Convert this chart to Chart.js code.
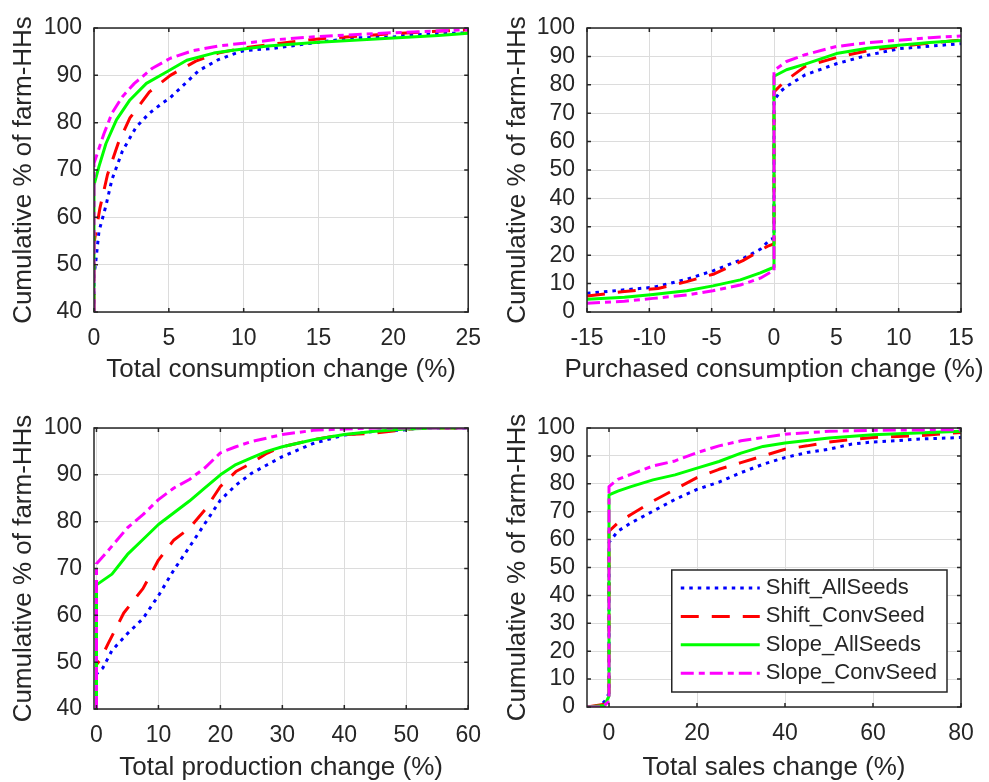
<!DOCTYPE html>
<html>
<head>
<meta charset="utf-8">
<title>Cumulative distribution of farm-HH changes</title>
<script src="https://cdn.jsdelivr.net/npm/chart.js@4.4.1/dist/chart.umd.min.js"></script>
<style>
  html, body { margin: 0; padding: 0; background: #fff; overflow: hidden; width: 989px; height: 782px; }
  canvas { position: absolute; }
</style>
</head>
<body>
<canvas id="consChart" width="494" height="391" style="left:0;top:0"></canvas>
<canvas id="purchChart" width="495" height="391" style="left:494px;top:0"></canvas>
<canvas id="prodChart" width="494" height="400" style="left:0;top:391px"></canvas>
<canvas id="salesChart" width="495" height="400" style="left:494px;top:391px"></canvas>
<script>
// series names, in legend order
const seriesNames = ['Shift_AllSeeds', 'Shift_ConvSeed', 'Slope_AllSeeds', 'Slope_ConvSeed'];

// --- Total consumption change (%) : [x, cumulative %] ---
const consShiftAll = [[0,40],[0,48],[0.1,50],[0.33,57],[0.8,62.5],[1.2,68],[1.9,74],[2.8,79],[3.7,82],[4.6,84.2],[5.1,85.3],[6,88],[7,91],[8.3,93.3],[9.4,94.6],[10,95.2],[12,95.7],[15,97],[17.5,97.9],[20,98.1],[21,98.5],[25,99]];
const consShiftConv = [[0,40],[0,54.5],[0.1,56.5],[0.4,62],[0.9,69],[1.6,75.5],[2.4,81],[3.7,86.5],[5.1,90],[6.8,93],[8.3,94.7],[10,95.8],[12.5,96.8],[15,97.7],[20,98.8],[23.5,99.4],[25,99.6]];
const consSlopeAll = [[0,40],[0,66.8],[0.33,70.7],[0.8,75.6],[1.5,80.6],[2.4,84.8],[3.5,88.3],[4.9,90.8],[6.2,93.2],[8,94.7],[9.3,95.3],[11.6,96.2],[15,97],[20,97.9],[23,98.4],[25,98.9]];
const consSlopeConv = [[0,40],[0,71.4],[0.22,73.5],[0.67,77.7],[1.2,82],[1.9,85.5],[2.7,88.3],[3.9,91.5],[5.1,93.6],[6.6,95.2],[8.3,96.2],[10.9,97.1],[12,97.5],[15,98.2],[20,99],[24,99.5],[25,99.7]];

// --- Purchased consumption change (%) ---
const purchShiftAll = [[-15,6.6],[-12,7.8],[-9.7,8.7],[-7,11.5],[-4.9,14.5],[-2.7,18.3],[-1.1,22.1],[-0.3,25.6],[0,26],[0,74.5],[0.5,77.6],[1,79.4],[2.5,83.5],[5,87.4],[7.5,90.4],[10,92.7],[12.5,93.6],[15,94.5]];
const purchShiftConv = [[-15,5.6],[-12.2,7.1],[-9.3,8.3],[-7,10.7],[-4.8,13.4],[-2.5,18.1],[-0.5,23.2],[0,24],[0,77.5],[0.8,81],[2.5,86.5],[5,89.6],[7.5,92],[10,93.5],[12.5,94.7],[15,95.8]];
const purchSlopeAll = [[-15,4.5],[-12,5.2],[-9.7,6.2],[-7,7.5],[-4.9,9.2],[-2.7,11.3],[-1.1,13.8],[-0.2,15.4],[0,15.8],[0,83],[1,85.3],[2.5,87.3],[5,91],[7.5,92.9],[10,93.9],[12.5,94.9],[15,95.6]];
const purchSlopeConv = [[-15,3.1],[-12,3.8],[-9.7,4.8],[-7,6],[-4.9,7.5],[-2.7,9.5],[-1.1,11.9],[-0.2,14.2],[0,14.5],[0,85],[1,88.2],[2.5,90.6],[5,93.5],[7.5,94.8],[10,95.7],[12.5,96.6],[15,97.2]];

// --- Total production change (%) ---
const prodShiftAll = [[0,40],[0,47.5],[1,48.7],[2.5,52.5],[5,56.1],[7.5,59.3],[10,64.2],[12.5,69.7],[15,74.6],[17.5,79.6],[20,84.6],[22.5,87.8],[25,90.3],[27.5,92.1],[30,93.9],[35,96.7],[40,98.5],[45,99.3],[50,99.6],[52,100],[60,100]];
const prodShiftConv = [[0,40],[0,49.5],[0.6,50.5],[1.9,54],[4.4,60.5],[7.5,65.7],[10,71.8],[12.5,76.1],[15,78.6],[17.5,82.5],[20,87.5],[22.5,90.7],[25,92.5],[27.5,94.6],[30,96],[35,97.5],[40,98.6],[45,98.9],[50,99.7],[52,100],[60,100]];
const prodSlopeAll = [[0,40],[0,66.5],[2.5,68.8],[5,73],[7.5,76.2],[10,79.4],[12.5,81.9],[15,84.4],[17.5,87.2],[20,90],[22.5,92.2],[25,93.6],[27.5,95],[30,96],[35,97.5],[40,98.6],[45,99.3],[50,99.8],[55,100],[60,100]];
const prodSlopeConv = [[0,40],[0,71],[2,74],[5,78.7],[7.5,81.5],[10,84.7],[12.5,87.2],[15,89],[17.5,91.5],[20,94.7],[22.5,96],[25,97.1],[30,98.6],[35,99.5],[40,99.8],[45,100],[60,100]];

// --- Total sales change (%) ---
const salesShiftAll = [[-5,0],[-2,0.5],[-1,2],[-0.3,4],[0,5],[0,59],[2,63],[5,66],[10,70.2],[15,74.4],[20,78],[25,80.6],[30,84],[35,87],[40,89.4],[45,91.2],[50,92.4],[55,94.2],[60,95],[65,95.4],[70,96],[80,96.6]];
const salesShiftConv = [[-5,0],[-1,1],[0,2],[0,63],[2,66],[5,69],[10,73.8],[15,78],[20,82.2],[25,85.2],[30,87.6],[35,90],[40,92.4],[45,93.6],[50,95],[60,96.6],[70,97.2],[80,98.4]];
const salesSlopeAll = [[-5,0],[-1,0.5],[0,4],[0,76],[2,77.4],[5,79],[10,81.4],[15,83.2],[20,85.6],[25,88],[30,91],[35,93.4],[40,94.6],[50,96.4],[60,97.6],[70,98.2],[80,98.8]];
const salesSlopeConv = [[-5,0],[-1.5,0],[0,2],[0,79],[2,81.6],[5,83.4],[10,86.4],[15,88.2],[20,91.2],[25,93.6],[30,95.4],[35,96.6],[40,97.8],[50,98.8],[60,99.2],[80,99.4]];

// tick values
const consTicksX = [0, 5, 10, 15, 20, 25];
const purchTicksX = [-15, -10, -5, 0, 5, 10, 15];
const prodTicksX = [0, 10, 20, 30, 40, 50, 60];
const salesTicksX = [0, 20, 40, 60, 80];
const ticksY40 = [40, 50, 60, 70, 80, 90, 100];
const ticksY0 = [0, 10, 20, 30, 40, 50, 60, 70, 80, 90, 100];

const FONT = "Arial, 'Liberation Sans', Helvetica, sans-serif";
const TEXT = '#262626';

// line look per series: dotted, dashed, solid, dash-dot
const lineStyles = [
    { color: '#0000ff', dash: [3.5, 5] },
    { color: '#ff0000', dash: [18, 13] },
    { color: '#00ff00', dash: [] },
    { color: '#ff00ff', dash: [13, 5, 6, 5] }
];

// axes box with inward tick marks on all four sides
const axesBox = {
    id: 'axesBox',
    afterDraw(chart) {
        const { ctx, chartArea: a, scales: { x, y } } = chart;
        const len = 4;
        ctx.save();
        ctx.strokeStyle = TEXT;
        ctx.lineWidth = 1.5;
        ctx.beginPath();
        x.ticks.forEach(t => {
            const px = x.getPixelForValue(t.value);
            ctx.moveTo(px, a.bottom); ctx.lineTo(px, a.bottom - len);
            ctx.moveTo(px, a.top); ctx.lineTo(px, a.top + len);
        });
        y.ticks.forEach(t => {
            const py = y.getPixelForValue(t.value);
            ctx.moveTo(a.left, py); ctx.lineTo(a.left + len, py);
            ctx.moveTo(a.right, py); ctx.lineTo(a.right - len, py);
        });
        ctx.stroke();
        ctx.strokeRect(a.left, a.top, a.right - a.left, a.bottom - a.top);
        ctx.restore();
    }
};

// x-axis label drawn at full width (the built-in title squeezes long text to the axis width)
const xLabel = {
    id: 'xLabel',
    afterDraw(chart, args, opts) {
        const { ctx, chartArea: a } = chart;
        ctx.save();
        ctx.font = '26px ' + FONT;
        ctx.fillStyle = TEXT;
        ctx.textAlign = 'center';
        ctx.textBaseline = 'middle';
        ctx.fillText(opts.text, (a.left + a.right) / 2, chart.height - opts.offset);
        ctx.restore();
    }
};

// boxed legend in the lower right of the plot area
const boxLegend = {
    id: 'boxLegend',
    afterDraw(chart) {
        const { ctx, chartArea: a } = chart;
        const sets = chart.data.datasets;
        ctx.save();
        ctx.font = '22px ' + FONT;
        const textW = Math.max(...sets.map(d => ctx.measureText(d.label).width));
        const w = 9 + 79 + 6 + textW + 10;
        const h = 122;
        const right = a.right - 14;
        const bottom = a.bottom - 15;
        const left = right - w;
        const top = bottom - h;

        ctx.fillStyle = '#fff';
        ctx.fillRect(left, top, w, h);
        ctx.strokeStyle = TEXT;
        ctx.lineWidth = 1.5;
        ctx.strokeRect(left, top, w, h);

        sets.forEach((d, i) => {
            const cy = top + 18 + i * 28.4;
            ctx.beginPath();
            ctx.setLineDash(d.borderDash);
            ctx.strokeStyle = d.borderColor;
            ctx.lineWidth = d.borderWidth;
            ctx.moveTo(left + 9, cy);
            ctx.lineTo(left + 88, cy);
            ctx.stroke();
            ctx.setLineDash([]);
            ctx.fillStyle = TEXT;
            ctx.textBaseline = 'middle';
            ctx.textAlign = 'left';
            ctx.fillText(d.label, left + 94, cy);
        });
        ctx.restore();
    }
};

function makeDatasets(seriesList) {
    return seriesList.map((pts, i) => ({
        label: seriesNames[i],
        data: pts.map(([x, y]) => ({ x, y })),
        borderColor: lineStyles[i].color,
        borderDash: lineStyles[i].dash,
        borderWidth: 3,
        borderCapStyle: 'butt',
        borderJoinStyle: 'round',
        pointRadius: 0,
        fill: false,
        tension: 0,
        order: seriesList.length - i
    }));
}

function setTicks(values) {
    return scale => { scale.ticks = values.map(v => ({ value: v })); };
}

function buildPanel(id, p) {
    const plugins = [axesBox, xLabel];
    if (p.legend) plugins.push(boxLegend);

    new Chart(document.getElementById(id), {
        type: 'line',
        data: { datasets: makeDatasets(p.series) },
        plugins,
        options: {
            responsive: false,
            animation: false,
            events: [],
            layout: { padding: { left: 0, right: p.padRight, top: p.padTop, bottom: 0 } },
            plugins: {
                legend: { display: false },
                tooltip: { enabled: false },
                xLabel: { text: p.xTitle, offset: p.xTitleOffset }
            },
            scales: {
                x: {
                    type: 'linear',
                    min: p.xMin,
                    max: p.xMax,
                    afterBuildTicks: setTicks(p.xTicks),
                    afterFit: scale => { scale.height = p.xHeight; },
                    grid: { color: '#dcdcdc', lineWidth: 1, drawTicks: false },
                    border: { display: false },
                    ticks: { autoSkip: false, maxRotation: 0, padding: 13, color: TEXT, font: { family: FONT, size: 23 } }
                },
                y: {
                    type: 'linear',
                    min: p.yMin,
                    max: 100,
                    afterBuildTicks: setTicks(p.yTicks),
                    afterFit: scale => { scale.width = p.yWidth; },
                    grid: { color: '#dcdcdc', lineWidth: 1, drawTicks: false },
                    border: { display: false },
                    ticks: { autoSkip: false, padding: 12, color: TEXT, font: { family: FONT, size: 23 } },
                    title: { display: true, text: 'Cumulative % of farm-HHs', color: TEXT, font: { family: FONT, size: 26 }, padding: { top: 8.4, bottom: 0 } }
                }
            }
        }
    });
}

buildPanel('consChart', {
    series: [consShiftAll, consShiftConv, consSlopeAll, consSlopeConv],
    xMin: 0, xMax: 25, yMin: 40, xTicks: consTicksX, yTicks: ticksY40,
    xTitle: 'Total consumption change (%)',
    yWidth: 94, padRight: 25, padTop: 28, xHeight: 79, xTitleOffset: 21
});

buildPanel('purchChart', {
    series: [purchShiftAll, purchShiftConv, purchSlopeAll, purchSlopeConv],
    xMin: -15, xMax: 15, yMin: 0, xTicks: purchTicksX, yTicks: ticksY0,
    xTitle: 'Purchased consumption change (%)',
    yWidth: 93, padRight: 28, padTop: 28, xHeight: 79, xTitleOffset: 21
});

buildPanel('prodChart', {
    series: [prodShiftAll, prodShiftConv, prodSlopeAll, prodSlopeConv],
    xMin: -0.4, xMax: 60, yMin: 40, xTicks: prodTicksX, yTicks: ticksY40,
    xTitle: 'Total production change (%)',
    yWidth: 94, padRight: 25, padTop: 37, xHeight: 82, xTitleOffset: 23
});

buildPanel('salesChart', {
    series: [salesShiftAll, salesShiftConv, salesSlopeAll, salesSlopeConv],
    xMin: -5, xMax: 80, yMin: 0, xTicks: salesTicksX, yTicks: ticksY0,
    xTitle: 'Total sales change (%)',
    yWidth: 93, padRight: 28, padTop: 37, xHeight: 84, xTitleOffset: 23,
    legend: true
});
</script>
</body>
</html>
